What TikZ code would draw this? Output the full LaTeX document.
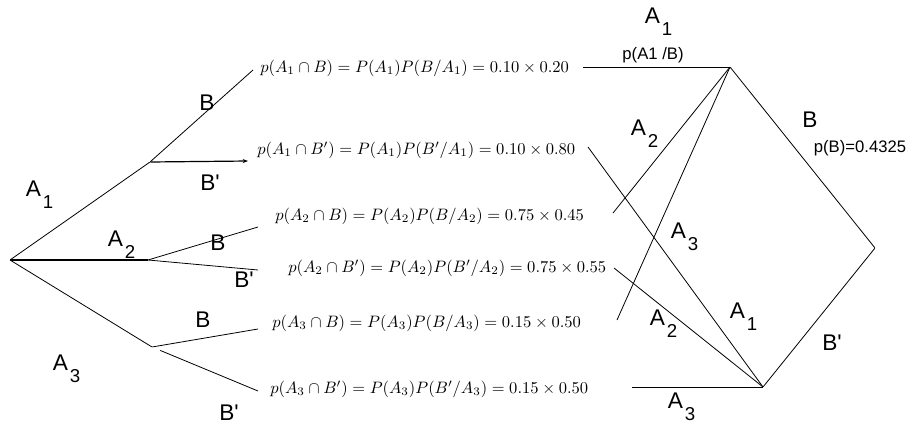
\documentclass[tikz,border=0pt]{standalone}
\usepackage{fontspec}
\newfontfamily\arialfont{Liberation Sans}
\usetikzlibrary{arrows.meta}
\tikzset{
  alab/.style={font=\arialfont\fontsize{17}{18}\selectfont,inner sep=0pt,anchor=base west},
  blab/.style={font=\arialfont\fontsize{17}{18}\selectfont,inner sep=0pt},
  tag/.style={font=\arialfont\fontsize{12.5}{14}\selectfont,inner sep=0pt},
  eqn/.style={font=\normalsize,scale=1.24,inner sep=0pt,anchor=west},
  pt/.style={inner sep=0pt,minimum size=0pt},
  edge/.style={line width=0.6pt},
  arr/.style={-{Stealth[length=4pt,width=3pt]},line width=0.9pt},
}
\newcommand{\Asub}[1]{A\kern1.5pt\raisebox{-9pt}{\fontsize{14}{15}\selectfont #1}}
\newcommand{\Bp}{B\textquotesingle}

\begin{document}
\begin{tikzpicture}[x=0.75pt,y=-0.75pt]
\useasboundingbox (0,0) rectangle (909,425);
% junctions of the tree and of the reversed tree
\node[pt] (root) at (10,260) {};
\node[pt] (b1) at (150,162) {};
\node[pt] (b2) at (148,260) {};
\node[pt] (b3) at (152,347) {};
\node[pt] (T) at (730,67) {};
\node[pt] (V) at (763,387) {};
\node[pt] (R) at (875,248) {};
% joint probabilities
\foreach \n/\x/\y/\f in {
    1/260/68/{p(A_1\cap B)=P(A_1)P(B/A_1)=0.10\times0.20},
    2/257/150/{p(A_1\cap B')=P(A_1)P(B'/A_1)=0.10\times0.80},
    3/275/216/{p(A_2\cap B)=P(A_2)P(B/A_2)=0.75\times0.45},
    4/288/268/{p(A_2\cap B')=P(A_2)P(B'/A_2)=0.75\times0.55},
    5/272/323/{p(A_3\cap B)=P(A_3)P(B/A_3)=0.15\times0.50},
    6/270/389/{p(A_3\cap B')=P(A_3)P(B'/A_3)=0.15\times0.50}}{
  \node[eqn] (f\n) at (\x,\y) {$\f$};}
% free ends next to the formulas
\foreach \i/\x/\y in {1/253/70,2/248/161,3/258/227,4/258/270,5/258/329,6/258/391}{
  \coordinate (l\i) at (\x,\y);}
\foreach \i/\x/\y in {1/583/67,2/588/147,3/613/213,4/614/268,5/617/320,6/632/387}{
  \coordinate (e\i) at (\x,\y);}
% left tree
\draw[edge] (root) -- (b1) -- (l1);
\draw[arr] (b1) -- (l2);
\draw[line width=1pt] (root) -- (b2);
\draw[edge] (b2) -- (l3);
\draw[edge] (b2) -- (l4);
\draw[edge] (root) -- (b3) -- (l5);
\draw[edge,shorten <=6.5pt] (b3) -- (l6);
% right tree
\foreach \i/\v in {1/T,2/V,3/T,4/V,5/T,6/V}{
  \draw[edge] (e\i) -- (\v);}
\draw[edge] (T) -- (R) -- (V);
% labels
\foreach \nm/\x/\y/\s in {a1/25.5/196.5/1,a2/107.5/246.5/2,a3/52.5/370.5/3,
    ta1/644.5/23.5/1,ta2/630.5/135.5/2,ta3/670.5/238.5/3,
    ua2/649.5/325.5/2,ua1/729.5/318.5/1,ua3/667.5/408.5/3}{
  \node[alab] (\nm) at (\x,\y) {\Asub{\s}};}
\node[blab] (bb1) at (207,103) {B};
\node[blab] (bp1) at (210,183) {\Bp};
\node[blab] (bb2) at (218,243) {B};
\node[blab] (bp2) at (244,280) {\Bp};
\node[blab] (bb3) at (203,320) {B};
\node[blab] (bp3) at (229,413) {\Bp};
\node[blab] (bR) at (810,120) {B};
\node[blab] (bpR) at (832,343) {\Bp};
\node[tag] (pA1B) at (653,55) {p(A1 /B)};
\node[tag] (pB) at (860,148) {p(B)=0.4325};
\end{tikzpicture}
\end{document}
